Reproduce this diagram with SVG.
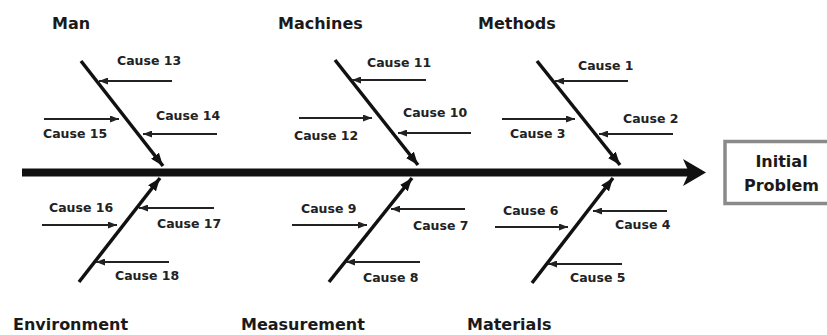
<svg xmlns="http://www.w3.org/2000/svg" width="827" height="335" viewBox="0 0 827 335">
<style>
.cat{font-family:"DejaVu Sans",sans-serif;font-weight:bold;font-size:16px;fill:#1a1a1a}
.cause{font-family:"DejaVu Sans",sans-serif;font-weight:bold;font-size:12.5px;fill:#222}
.bone{stroke:#111;stroke-width:3.5;fill:none}
.sub{stroke:#222;stroke-width:2;fill:none}
.box{fill:#fff;stroke:#8a8a8a;stroke-width:3.5}
</style>
<defs>
<marker id="sa" markerUnits="userSpaceOnUse" markerWidth="9" markerHeight="7" refX="9" refY="3.5" orient="auto"><path d="M0,0 L9,3.5 L0,7 Z" fill="#222"/></marker>
<marker id="ba" markerUnits="userSpaceOnUse" markerWidth="13" markerHeight="10" refX="13" refY="5" orient="auto"><path d="M0,0 L13,5 L0,10 Z" fill="#111"/></marker>
</defs>
<rect width="827" height="335" fill="#fff"/>
<g id="connectors">
<line x1="22" y1="172.5" x2="690" y2="172.5" stroke="#111" stroke-width="8"/>
<path d="M683,159 L706,172.5 L683,186 L689,172.5 Z" fill="#111"/>
<line class="bone" x1="81" y1="61" x2="163" y2="166" marker-end="url(#ba)"/>
<line class="bone" x1="335" y1="60" x2="418" y2="165" marker-end="url(#ba)"/>
<line class="bone" x1="537" y1="61" x2="620" y2="165" marker-end="url(#ba)"/>
<line class="bone" x1="79" y1="282" x2="160" y2="178" marker-end="url(#ba)"/>
<line class="bone" x1="329" y1="282" x2="412" y2="178" marker-end="url(#ba)"/>
<line class="bone" x1="532" y1="283" x2="613" y2="178" marker-end="url(#ba)"/>
<line class="sub" x1="172" y1="81" x2="99" y2="81" marker-end="url(#sa)"/>
<line class="sub" x1="217" y1="134" x2="143" y2="134" marker-end="url(#sa)"/>
<line class="sub" x1="44" y1="119" x2="119" y2="119" marker-end="url(#sa)"/>
<line class="sub" x1="426" y1="80" x2="352" y2="80" marker-end="url(#sa)"/>
<line class="sub" x1="471" y1="133" x2="398" y2="133" marker-end="url(#sa)"/>
<line class="sub" x1="299" y1="118" x2="372" y2="118" marker-end="url(#sa)"/>
<line class="sub" x1="628" y1="81" x2="555" y2="81" marker-end="url(#sa)"/>
<line class="sub" x1="673" y1="134" x2="599" y2="134" marker-end="url(#sa)"/>
<line class="sub" x1="502" y1="119" x2="575" y2="119" marker-end="url(#sa)"/>
<line class="sub" x1="42" y1="225" x2="117" y2="225" marker-end="url(#sa)"/>
<line class="sub" x1="214" y1="208" x2="139" y2="208" marker-end="url(#sa)"/>
<line class="sub" x1="169" y1="262" x2="96" y2="262" marker-end="url(#sa)"/>
<line class="sub" x1="292" y1="225" x2="367" y2="225" marker-end="url(#sa)"/>
<line class="sub" x1="465" y1="209" x2="391" y2="209" marker-end="url(#sa)"/>
<line class="sub" x1="420" y1="262" x2="346" y2="262" marker-end="url(#sa)"/>
<line class="sub" x1="495" y1="227" x2="568" y2="227" marker-end="url(#sa)"/>
<line class="sub" x1="667" y1="211" x2="593" y2="211" marker-end="url(#sa)"/>
<line class="sub" x1="622" y1="264" x2="548" y2="264" marker-end="url(#sa)"/>
</g>
<g id="man"><text class="cat" x="52" y="29">Man</text>
<text class="cause" x="117" y="65">Cause 13</text>
<text class="cause" x="156" y="120">Cause 14</text>
<text class="cause" x="43" y="138">Cause 15</text></g>
<g id="machines"><text class="cat" x="278" y="29">Machines</text>
<text class="cause" x="367" y="67">Cause 11</text>
<text class="cause" x="403" y="117">Cause 10</text>
<text class="cause" x="294" y="140">Cause 12</text></g>
<g id="methods"><text class="cat" x="478" y="29">Methods</text>
<text class="cause" x="578" y="70">Cause 1</text>
<text class="cause" x="623" y="123">Cause 2</text>
<text class="cause" x="510" y="138">Cause 3</text></g>
<g id="environment"><text class="cat" x="13" y="330">Environment</text>
<text class="cause" x="49" y="212">Cause 16</text>
<text class="cause" x="157" y="228">Cause 17</text>
<text class="cause" x="115" y="280">Cause 18</text></g>
<g id="measurement"><text class="cat" x="241" y="330">Measurement</text>
<text class="cause" x="301" y="213">Cause 9</text>
<text class="cause" x="413" y="230">Cause 7</text>
<text class="cause" x="363" y="282">Cause 8</text></g>
<g id="materials"><text class="cat" x="467" y="330">Materials</text>
<text class="cause" x="503" y="215">Cause 6</text>
<text class="cause" x="615" y="229">Cause 4</text>
<text class="cause" x="570" y="282">Cause 5</text></g>
<g id="problem"><rect class="box" x="725" y="141.5" width="120" height="62"/>
<text class="cat" x="781.5" y="167" text-anchor="middle">Initial</text>
<text class="cat" x="781.5" y="191" text-anchor="middle">Problem</text></g>
</svg>
